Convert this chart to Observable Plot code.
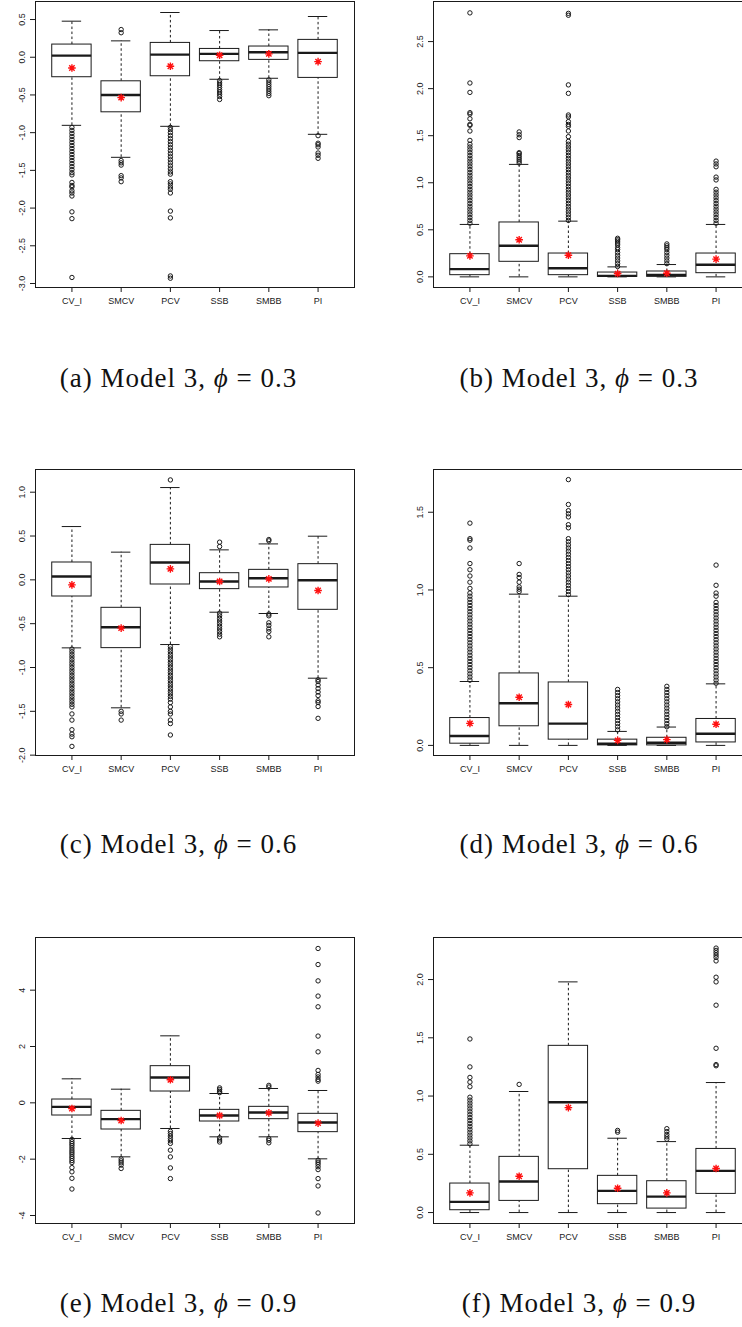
<!DOCTYPE html>
<html><head><meta charset="utf-8">
<script src="https://cdn.jsdelivr.net/npm/d3@7"></script>
<script src="https://cdn.jsdelivr.net/npm/@observablehq/plot@0.6"></script>
<style>
html,body{margin:0;padding:0;background:#fff;overflow:hidden;}
body{width:742px;height:1327px;position:relative;}
.panel{position:absolute;width:371px;height:320px;overflow:visible;}
.panel svg{max-width:none !important;width:371px;height:320px;}
.cap{position:absolute;font-family:"Liberation Serif","Times New Roman",serif;font-size:27px;letter-spacing:1px;white-space:nowrap;transform:translate(-50%,-50%);color:#111;}
.cap i{font-style:italic;}
</style></head><body>
<script>
const categories = ["CV_I","SMCV","PCV","SSB","SMBB","PI"];
const captions = ["(a) Model 3, ", "(b) Model 3, ", "(c) Model 3, ", "(d) Model 3, ", "(e) Model 3, ", "(f) Model 3, "];
const phiValues = ["0.3","0.3","0.6","0.6","0.9","0.9"];

// ---- panel (a)
const aTicks = [-3,-2.5,-2,-1.5,-1,-0.5,0,0.5];
const aDomain = [-3.053, 0.739];
const aLower = [-0.903,-1.327,-0.916,-0.292,-0.279,-1.022];
const aQ1 = [-0.265,-0.73,-0.252,-0.053,-0.035,-0.274];
const aMedian = [0.022,-0.5,0.035,0.044,0.066,0.058];
const aQ3 = [0.168,-0.319,0.19,0.11,0.142,0.23];
const aUpper = [0.478,0.217,0.593,0.354,0.363,0.54];
const aMean = [-0.142,-0.535,-0.12,0.027,0.044,-0.058];
const aOutliers = [
  [-0.93,-0.97,-1.01,-1.05,-1.09,-1.13,-1.17,-1.21,-1.25,-1.29,-1.33,-1.37,-1.41,-1.45,-1.49,-1.53,-1.56,-1.66,-1.70,-1.72,-1.77,-1.80,-1.84,-2.05,-2.14,-2.92],
  [0.367,0.325,-1.37,-1.40,-1.43,-1.57,-1.60,-1.65],
  [-0.93,-0.96,-1.0,-1.04,-1.08,-1.12,-1.16,-1.2,-1.24,-1.28,-1.32,-1.36,-1.40,-1.44,-1.48,-1.52,-1.55,-1.65,-1.68,-1.72,-1.75,-1.8,-2.04,-2.13,-2.9,-2.93],
  [-0.31,-0.34,-0.37,-0.40,-0.43,-0.46,-0.49,-0.52,-0.56],
  [-0.30,-0.33,-0.36,-0.39,-0.42,-0.45,-0.48,-0.51],
  [-1.04,-1.14,-1.16,-1.19,-1.27,-1.30,-1.34]
];

// ---- panel (b)
const bTicks = [0,0.5,1,1.5,2,2.5];
const bDomain = [-0.113, 2.926];
const bLower = [0,0,0,0,0,0];
const bQ1 = [0.018,0.16,0.018,0.0,0.0,0.039];
const bMedian = [0.082,0.33,0.092,0.011,0.021,0.128];
const bQ3 = [0.241,0.578,0.248,0.046,0.057,0.248];
const bUpper = [0.557,1.195,0.592,0.106,0.131,0.557];
const bMean = [0.223,0.394,0.23,0.035,0.039,0.188];
const bOutliers = [
  [0.57,0.60,0.63,0.66,0.69,0.72,0.75,0.78,0.81,0.84,0.87,0.90,0.93,0.96,0.99,1.02,1.05,1.08,1.11,1.14,1.17,1.20,1.23,1.26,1.29,1.32,1.35,1.38,1.41,1.45,1.55,1.61,1.62,1.68,1.73,1.745,1.96,2.06,2.805],
  [1.21,1.23,1.25,1.27,1.29,1.31,1.32,1.48,1.51,1.54],
  [0.60,0.63,0.66,0.69,0.72,0.75,0.78,0.81,0.84,0.87,0.90,0.93,0.96,0.99,1.02,1.05,1.08,1.11,1.14,1.17,1.20,1.23,1.26,1.29,1.32,1.35,1.38,1.41,1.44,1.49,1.55,1.60,1.62,1.65,1.70,1.72,1.95,2.04,2.78,2.80],
  [0.11,0.14,0.17,0.20,0.23,0.26,0.29,0.31,0.34,0.36,0.38,0.395,0.41],
  [0.14,0.17,0.20,0.23,0.26,0.29,0.31,0.33,0.35],
  [0.57,0.60,0.63,0.66,0.69,0.72,0.75,0.78,0.81,0.84,0.87,0.90,0.93,1.03,1.06,1.17,1.20,1.23]
];

// ---- panel (c)
const cTicks = [-2,-1.5,-1,-0.5,0,0.5,1];
const cDomain = [-2.004, 1.259];
const cLower = [-0.776,-1.46,-0.738,-0.369,-0.384,-1.122];
const cQ1 = [-0.19,-0.779,-0.053,-0.106,-0.087,-0.342];
const cMedian = [0.038,-0.54,0.198,-0.019,0.019,-0.004];
const cQ3 = [0.198,-0.319,0.399,0.076,0.114,0.179];
const cUpper = [0.608,0.316,1.053,0.342,0.41,0.498];
const cMean = [-0.057,-0.551,0.125,-0.019,0.011,-0.122];
const cOutliers = [
  [-0.79,-0.82,-0.85,-0.88,-0.91,-0.94,-0.97,-1.00,-1.03,-1.06,-1.09,-1.12,-1.15,-1.18,-1.21,-1.24,-1.27,-1.30,-1.33,-1.36,-1.39,-1.42,-1.45,-1.53,-1.60,-1.71,-1.76,-1.79,-1.90],
  [-1.50,-1.53,-1.60],
  [1.14,-0.76,-0.79,-0.82,-0.85,-0.88,-0.91,-0.94,-0.97,-1.00,-1.03,-1.06,-1.09,-1.12,-1.15,-1.18,-1.21,-1.24,-1.27,-1.30,-1.33,-1.36,-1.40,-1.45,-1.50,-1.53,-1.60,-1.64,-1.77],
  [0.43,0.38,-0.38,-0.41,-0.44,-0.47,-0.50,-0.53,-0.56,-0.59,-0.62,-0.65],
  [0.46,0.445,-0.39,-0.41,-0.49,-0.52,-0.56,-0.59,-0.65],
  [-1.14,-1.16,-1.20,-1.24,-1.28,-1.32,-1.38,-1.40,-1.445,-1.58]
];

// ---- panel (d)
const dTicks = [0,0.5,1,1.5];
const dDomain = [-0.065, 1.775];
const dLower = [0,0,0,0,0,0];
const dQ1 = [0.011,0.123,0.037,0.0,0.0,0.019];
const dMedian = [0.06,0.271,0.14,0.011,0.017,0.075];
const dQ3 = [0.176,0.463,0.405,0.037,0.049,0.17];
const dUpper = [0.411,0.973,0.96,0.09,0.118,0.396];
const dMean = [0.142,0.31,0.263,0.032,0.037,0.136];
const dOutliers = [
  [0.42,0.44,0.46,0.48,0.50,0.52,0.54,0.56,0.58,0.60,0.62,0.64,0.66,0.68,0.70,0.72,0.74,0.76,0.78,0.80,0.82,0.84,0.86,0.88,0.90,0.92,0.94,0.96,0.98,1.01,1.05,1.09,1.13,1.17,1.27,1.32,1.33,1.43],
  [0.99,1.005,1.02,1.05,1.08,1.10,1.17],
  [0.97,0.99,1.01,1.03,1.05,1.07,1.09,1.11,1.13,1.15,1.17,1.19,1.21,1.23,1.25,1.27,1.29,1.31,1.33,1.40,1.42,1.47,1.49,1.51,1.55,1.71],
  [0.10,0.12,0.14,0.16,0.18,0.20,0.22,0.24,0.26,0.28,0.30,0.32,0.34,0.36],
  [0.12,0.14,0.16,0.18,0.20,0.22,0.24,0.26,0.28,0.30,0.32,0.34,0.36,0.38],
  [0.40,0.42,0.44,0.46,0.48,0.50,0.52,0.54,0.56,0.58,0.60,0.62,0.64,0.66,0.68,0.70,0.72,0.74,0.76,0.78,0.80,0.82,0.84,0.86,0.88,0.90,0.92,0.96,0.98,1.03,1.16]
];

// ---- panel (e)
const eTicks = [-4,-2,0,2,4];
const eDomain = [-4.284, 5.87];
const eLower = [-1.266,-1.917,-0.911,-1.207,-1.207,-1.988];
const eQ1 = [-0.45,-0.947,0.402,-0.663,-0.58,-1.041];
const eMedian = [-0.142,-0.58,0.9,-0.45,-0.343,-0.698];
const eQ3 = [0.118,-0.284,1.302,-0.249,-0.142,-0.39];
const eUpper = [0.852,0.485,2.379,0.331,0.509,0.438];
const eMean = [-0.2,-0.627,0.817,-0.45,-0.355,-0.722];
const eOutliers = [
  [-1.30,-1.38,-1.45,-1.52,-1.60,-1.68,-1.75,-1.82,-1.90,-1.97,-2.05,-2.12,-2.30,-2.45,-2.68,-3.06],
  [-1.99,-2.06,-2.13,-2.21,-2.33],
  [-1.01,-1.09,-1.18,-1.27,-1.35,-1.44,-1.68,-1.92,-2.31,-2.69],
  [0.53,0.47,0.41,0.36,-1.24,-1.32,-1.39],
  [0.62,0.56,-1.27,-1.33,-1.42],
  [5.48,4.91,4.33,3.79,3.41,2.37,1.81,1.15,1.01,0.92,0.83,0.77,-2.04,-2.11,-2.18,-2.27,-2.37,-2.69,-2.95,-3.91]
];

// ---- panel (f)
const fTicks = [0,0.5,1,1.5,2];
const fDomain = [-0.094, 2.361];
const fLower = [0,0,0,0,0,0];
const fQ1 = [0.02,0.1,0.372,0.072,0.034,0.16];
const fMedian = [0.092,0.266,0.947,0.186,0.137,0.358];
const fQ3 = [0.249,0.478,1.431,0.315,0.269,0.546];
const fUpper = [0.578,1.039,1.98,0.638,0.609,1.116];
const fMean = [0.169,0.312,0.901,0.209,0.169,0.378];
const fOutliers = [
  [0.59,0.615,0.64,0.665,0.69,0.715,0.74,0.765,0.79,0.815,0.84,0.865,0.89,0.915,0.94,0.965,0.99,1.08,1.12,1.16,1.25,1.49],
  [1.10],
  [],
  [0.69,0.705],
  [0.63,0.65,0.67,0.695,0.72],
  [2.27,2.25,2.23,2.21,2.19,2.16,2.02,1.98,1.78,1.41,1.27,1.26]
];

// R-style pch 8 asterisk
const asterisk8 = {
  draw(ctx, size) {
    const r = Math.sqrt(size / Math.PI), d = r * Math.SQRT1_2;
    ctx.moveTo(-r, 0); ctx.lineTo(r, 0);
    ctx.moveTo(0, -r); ctx.lineTo(0, r);
    ctx.moveTo(-d, -d); ctx.lineTo(d, d);
    ctx.moveTo(-d, d); ctx.lineTo(d, -d);
  }
};

const INK = "#1a1a1a";

function boxPanel(lower, q1, median, q3, upper, mean, outliers, domain, ticks, fmt) {
  const boxes = categories.map((c, i) => ({cat: c, lower: lower[i], q1: q1[i], median: median[i], q3: q3[i], upper: upper[i], mean: mean[i]}));
  const pts = categories.flatMap((c, i) => outliers[i].map(v => ({cat: c, v})));
  return Plot.plot({
    width: 371, height: 320,
    marginLeft: 35, marginRight: 17, marginTop: 1, marginBottom: 33,
    style: {fontFamily: "'Liberation Sans', Arial, sans-serif", fontSize: "9px", color: INK, background: "transparent", overflow: "visible", maxWidth: "none"},
    x: {type: "band", domain: categories, paddingInner: 0.2, paddingOuter: 0.34, round: false, label: null},
    y: {domain, label: null},
    marks: [
      Plot.ruleX(boxes, {x: "cat", y1: "q3", y2: "upper", stroke: INK, strokeWidth: 1, strokeDasharray: "2.5,2.5"}),
      Plot.ruleX(boxes, {x: "cat", y1: "lower", y2: "q1", stroke: INK, strokeWidth: 1, strokeDasharray: "2.5,2.5"}),
      Plot.tickY(boxes, {x: "cat", y: "upper", stroke: INK, strokeWidth: 1, insetLeft: 10, insetRight: 10}),
      Plot.tickY(boxes, {x: "cat", y: "lower", stroke: INK, strokeWidth: 1, insetLeft: 10, insetRight: 10}),
      Plot.barY(boxes, {x: "cat", y1: "q1", y2: "q3", fill: "white", stroke: INK, strokeWidth: 1}),
      Plot.tickY(boxes, {x: "cat", y: "median", stroke: INK, strokeWidth: 2.4}),
      Plot.dot(pts, {x: "cat", y: "v", r: 2.2, stroke: INK, strokeWidth: 1, fill: "none"}),
      Plot.dot(boxes, {x: "cat", y: "mean", symbol: asterisk8, r: 3.8, stroke: "#ff1010", strokeWidth: 1.4, fill: "none"}),
      Plot.frame({stroke: INK, strokeWidth: 1}),
      Plot.axisY({ticks, tickSize: 5, tickPadding: 6, tickRotate: -90, tickFormat: fmt, fontSize: 9, stroke: INK}),
      Plot.axisX({tickSize: 5, tickPadding: 5, fontSize: 9, stroke: INK})
    ]
  });
}

const fmt1 = d => d.toFixed(1);
const fmt0 = d => String(d);

const panels = [
  {left: 0, top: 0, plot: boxPanel(aLower, aQ1, aMedian, aQ3, aUpper, aMean, aOutliers, aDomain, aTicks, fmt1)},
  {left: 398, top: 0, plot: boxPanel(bLower, bQ1, bMedian, bQ3, bUpper, bMean, bOutliers, bDomain, bTicks, fmt1)},
  {left: 0, top: 468, plot: boxPanel(cLower, cQ1, cMedian, cQ3, cUpper, cMean, cOutliers, cDomain, cTicks, fmt1)},
  {left: 398, top: 468, plot: boxPanel(dLower, dQ1, dMedian, dQ3, dUpper, dMean, dOutliers, dDomain, dTicks, fmt1)},
  {left: 0, top: 936, plot: boxPanel(eLower, eQ1, eMedian, eQ3, eUpper, eMean, eOutliers, eDomain, eTicks, fmt0)},
  {left: 398, top: 936, plot: boxPanel(fLower, fQ1, fMedian, fQ3, fUpper, fMean, fOutliers, fDomain, fTicks, fmt1)}
];
for (const p of panels) {
  const div = document.createElement("div");
  div.className = "panel";
  div.style.left = p.left + "px";
  div.style.top = p.top + "px";
  p.plot.style.maxWidth = "none";
  div.appendChild(p.plot);
  document.body.appendChild(div);
}

const capPos = [[178.5, 377.5], [579, 377.5], [178.5, 843.5], [579, 843.5], [178.5, 1302.5], [579, 1302.5]];
captions.forEach((t, i) => {
  const div = document.createElement("div");
  div.className = "cap";
  div.style.left = capPos[i][0] + "px";
  div.style.top = capPos[i][1] + "px";
  div.appendChild(document.createTextNode(t));
  const ph = document.createElement("i");
  ph.textContent = "\u03D5";
  div.appendChild(ph);
  div.appendChild(document.createTextNode(" = " + phiValues[i]));
  document.body.appendChild(div);
});
</script>
</body></html>
